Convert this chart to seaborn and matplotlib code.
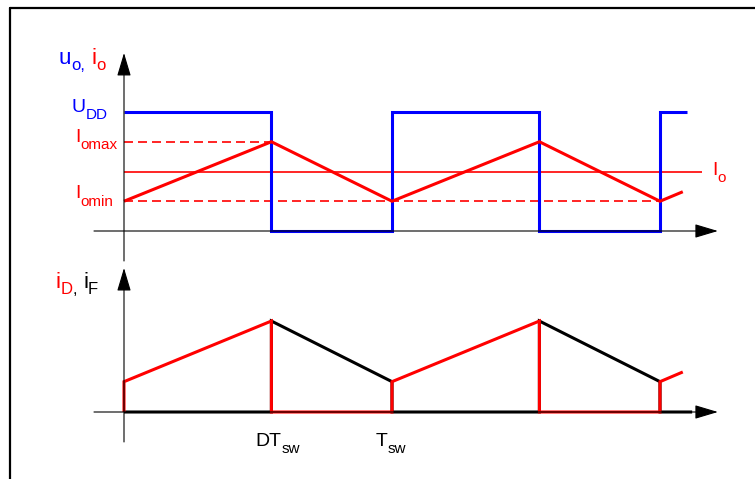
import matplotlib
matplotlib.use("Agg")
import matplotlib.pyplot as plt
import seaborn as sns
from matplotlib.lines import Line2D


# buck converter waveforms, values per unit of U_DD, time in units of T_sw
DUTY = 0.55
U_DD = 1.0
I_OMAX = 0.75
I_OMIN = 0.25
I_O = 0.5

UO_T = [0, DUTY, DUTY, 1, 1, 1 + DUTY, 1 + DUTY, 2, 2, 2.1]
UO_V = [1, 1, 0, 0, 1, 1, 0, 0, 1, 1]

IO_T = [0, DUTY, 1, 1 + DUTY, 2, 2.085]
IO_V = [0.25, 0.75, 0.25, 0.75, 0.25, 0.33]

ID_T = [0, 0, DUTY, DUTY, 1, 1, 1 + DUTY, 1 + DUTY, 2, 2, 2.085]
ID_V = [0, 0.25, 0.75, 0, 0, 0.25, 0.75, 0, 0, 0.25, 0.33]

IF_T = [0, DUTY, DUTY, 1, 1, 1 + DUTY, 1 + DUTY, 2, 2, 2.12]
IF_V = [0, 0, 0.75, 0.25, 0, 0, 0.75, 0.25, 0, 0]

IO_LINE_END = 2.157
TIME_TICKS = [DUTY, 1]
TIME_LABELS = [("DT", "sw"), ("T", "sw")]

BLUE = "#0000ff"
RED = "#ff0000"
W = 755
H = 479


def sub_text(ax, xy, offset, main, sub, color, size, sub_size, drop=3.5, sub_color=None):
    t = ax.annotate(main, xy=xy, xytext=offset, textcoords="offset points",
                    ha="left", va="baseline", color=color, fontsize=size)
    s = ax.annotate(sub, xy=(1, 0), xycoords=t, xytext=(0, -drop),
                    textcoords="offset points", ha="left", va="bottom",
                    color=sub_color or color, fontsize=sub_size)
    return t, s


def axis_arrow(ax, start, tip):
    ax.annotate("", xy=tip, xytext=start,
                arrowprops=dict(arrowstyle="-|>,head_length=1.44,head_width=0.43",
                                mutation_scale=10, lw=0.8, color="black",
                                shrinkA=0, shrinkB=0))


sns.set_theme(style="white")
plt.rcParams["font.family"] = ["Liberation Sans", "DejaVu Sans"]

fig = plt.figure(figsize=(W / 100, H / 100), dpi=100)

# pixel layout: t=0 at x=124, 268 px per T_sw
xlim = (-124 / 268, (W - 124) / 268)
ax_top = fig.add_axes([0, (H - 265) / H, 1, 265 / H])
ax_bot = fig.add_axes([0, 0, 1, (H - 265) / H])
ax_top.set_xlim(xlim)
ax_bot.set_xlim(xlim)
ax_top.set_ylim((231 - 265) / 119, 231 / 119)
ax_bot.set_ylim((412 - 479) / 121.3, (412 - 265) / 121.3)
for ax in (ax_top, ax_bot):
    ax.axis("off")

line_kw = dict(sort=False, estimator=None, solid_joinstyle="miter", solid_capstyle="butt")

# top panel: output voltage and inductor current
axis_arrow(ax_top, (-0.112, 0), (2.216, 0))
axis_arrow(ax_top, (0, -0.252), (0, 1.496))
ax_top.hlines(I_O, 0, IO_LINE_END, color=RED, lw=1.2)
ax_top.hlines(I_OMAX, 0, DUTY, color=RED, lw=1.2, linestyles=(0, (5.4, 3)))
ax_top.hlines(I_OMIN, 0, 2, color=RED, lw=1.2, linestyles=(0, (5.4, 3)))
sns.lineplot(x=UO_T, y=UO_V, ax=ax_top, color=BLUE, lw=2.2, **line_kw)
sns.lineplot(x=IO_T, y=IO_V, ax=ax_top, color=RED, lw=2.2, **line_kw)

sub_text(ax_top, (0, 1.496), (-47, -8), "u", "o,", BLUE, 16, 12, drop=2.5)
sub_text(ax_top, (0, 1.496), (-23.5, -8), "i", "o", RED, 16, 12, drop=2.5)
sub_text(ax_top, (0, U_DD), (-37.5, 0), "U", "DD", BLUE, 14, 11, drop=4)
sub_text(ax_top, (0, I_OMAX), (-35, 0), "I", "omax", RED, 14, 11, drop=4.5)
sub_text(ax_top, (0, I_OMIN), (-35, 2), "I", "omin", RED, 14, 11, drop=4.5)
sub_text(ax_top, (IO_LINE_END, I_O), (7, -2.5), "I", "o", RED, 14, 11, drop=4)

# bottom panel: switch and diode currents
axis_arrow(ax_bot, (-0.112, 0), (2.216, 0))
axis_arrow(ax_bot, (0, -0.247), (0, 1.187))
sns.lineplot(x=IF_T, y=IF_V, ax=ax_bot, color="black", lw=2.2, **line_kw)
sns.lineplot(x=ID_T, y=ID_V, ax=ax_bot, color=RED, lw=2.2, **line_kw)

_, d = sub_text(ax_bot, (0, 1.187), (-49, -14.5), "i", "D", RED, 16, 12, drop=3)
ax_bot.annotate(",", xy=(1, 0), xycoords=d, ha="left", va="bottom",
                color="black", fontsize=12)
sub_text(ax_bot, (0, 1.187), (-29.5, -14.5), "i", "F", "black", 16, 12, drop=3)

for tick, (main, sub) in zip(TIME_TICKS, TIME_LABELS):
    sub_text(ax_bot, (tick, 0), (-11.5, -24.5), main, sub, "black", 14, 11, drop=4)

# outer frame
fig.add_artist(Line2D([10 / W, 10 / W], [0, 1 - 8 / H], color="black", lw=1.6,
                      transform=fig.transFigure))
fig.add_artist(Line2D([10 / W, 1], [1 - 8 / H, 1 - 8 / H], color="black", lw=1.6,
                      transform=fig.transFigure))

fig.savefig("out.png", dpi=100)
